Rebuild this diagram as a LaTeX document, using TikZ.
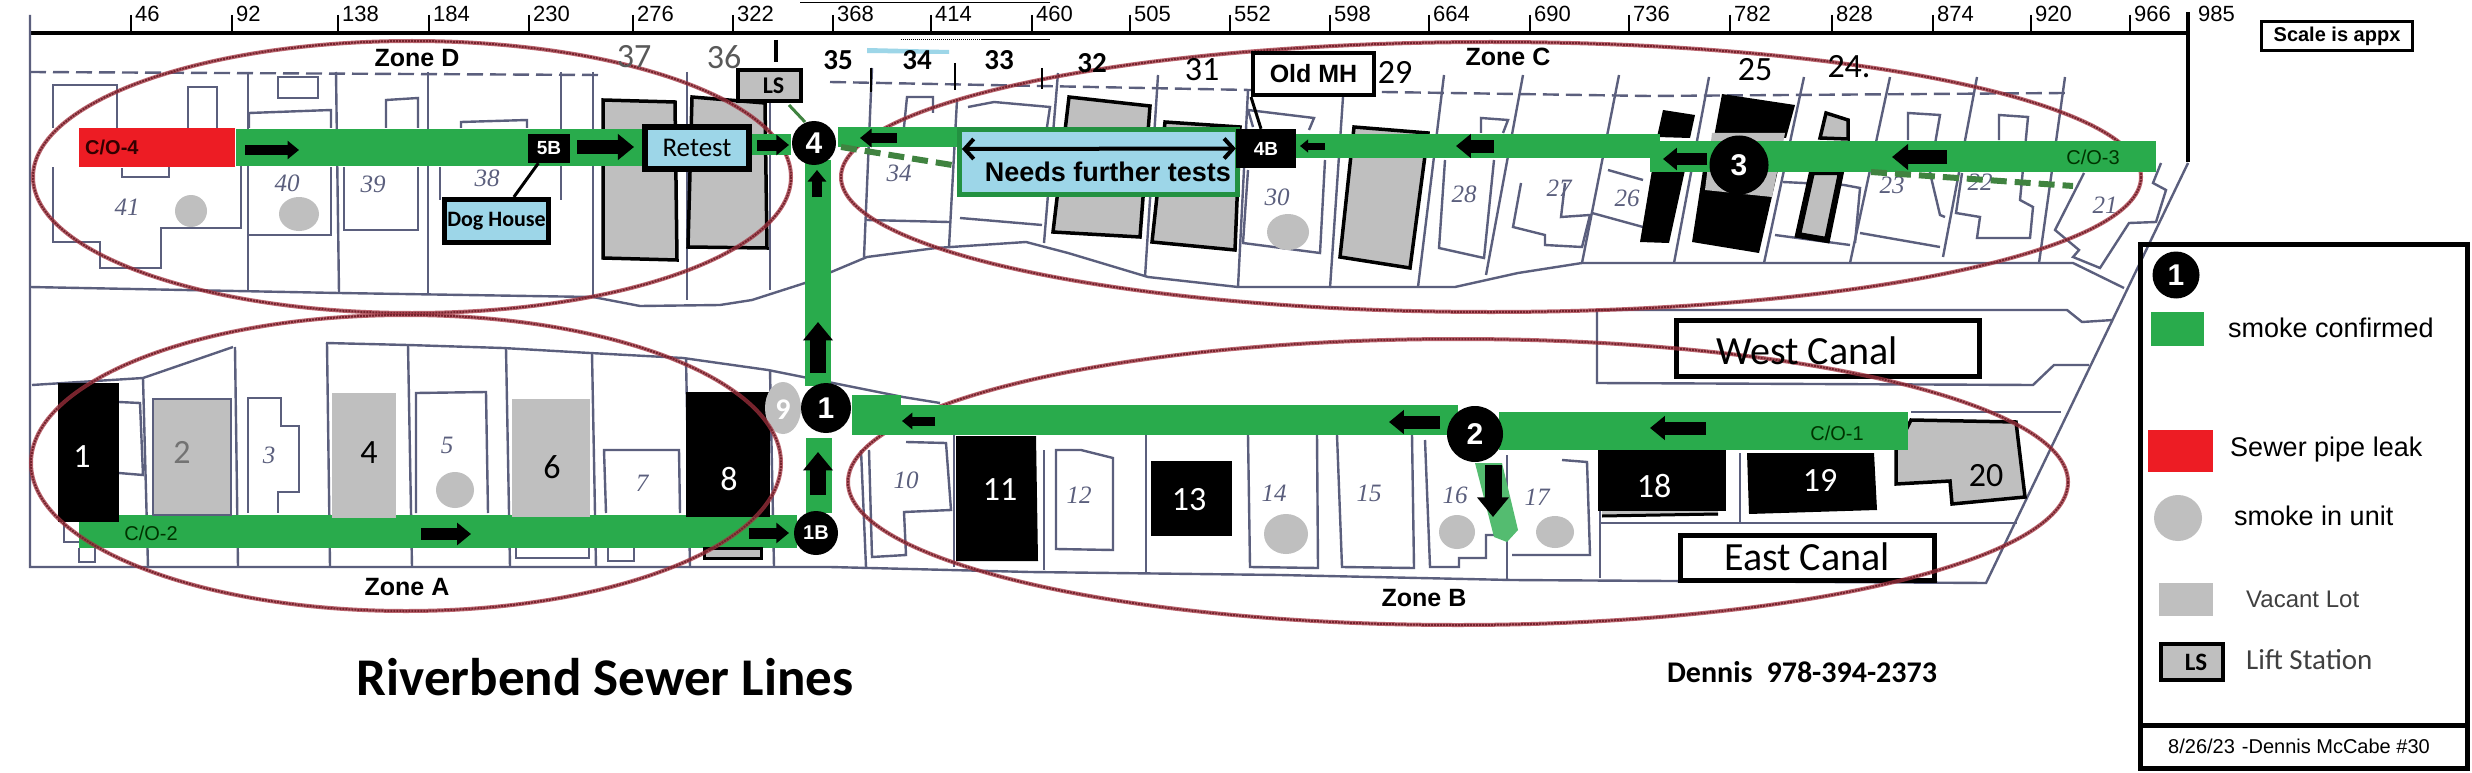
\documentclass[tikz,border=0pt]{standalone}
\usepackage{fontspec}
\setmainfont{Liberation Sans}
\newfontfamily\calibri{Carlito}
\newfontfamily\handfont{Liberation Serif}
\usetikzlibrary{arrows.meta}
\definecolor{smoke}{HTML}{29AB4C}
\definecolor{leak}{HTML}{ED1C24}
\definecolor{vacant}{HTML}{BFBFBF}
\definecolor{retestblue}{HTML}{9DD6E8}
\definecolor{plan}{HTML}{5B5F7D}
\definecolor{ring}{HTML}{A5323F}
\tikzset{
  planline/.style={plan, line width=2.4pt},
  lotblack/.style={fill=black},
  lotgray/.style={fill=vacant, draw=black, line width=3.5pt},
  flowarrow/.style={line width=#1, -{Triangle[length=0pt 1.15, width=0pt 1.8]}},
  flowarrow/.default=12pt,
  bubble/.style={circle, fill=black, text=white, inner sep=0pt, minimum size=#1,
    font=\fontsize{30}{30}\selectfont\bfseries},
  blackbox/.style={fill=black, text=white, inner sep=0pt, font=\fontsize{19}{19}\selectfont\bfseries},
  outlined/.style={draw=black, fill=white, inner sep=0pt, line width=5pt},
  hand/.style={text=plan, inner sep=0pt, font=\fontsize{25}{25}\selectfont\handfont\itshape},
  lotnum/.style={inner sep=0pt, font=\fontsize{34}{34}\selectfont\calibri},
  zonelabel/.style={inner sep=0pt, font=\fontsize{25}{25}\selectfont\bfseries},
  colabel/.style={inner sep=0pt, font=\fontsize{20}{20}\selectfont},
  legendtext/.style={anchor=west, inner sep=0pt, font=\fontsize{27}{27}\selectfont},
  ticklabel/.style={anchor=west, inner sep=0pt, font=\fontsize{22}{22}\selectfont},
}
\begin{document}
\begin{tikzpicture}[x=1pt, y=-1pt]
  \useasboundingbox (0, 0) rectangle (2472, 773);
  \fill[white] (0, 0) rectangle (2472, 773);

  \draw[line width=3.5pt] (30, 33) -- (2188, 33);
  \draw[line width=3.5pt] (2188, 12) -- (2188, 162);
  \foreach \x/\t in {131/46, 232/92, 338/138, 429/184, 529/230, 633/276, 733/322,
    833/368, 931/414, 1032/460, 1130/505, 1230/552, 1330/598, 1429/664, 1530/690,
    1629/736, 1730/782, 1832/828, 1933/874, 2031/920, 2130/966} {
    \draw[line width=1.5pt] (\x, 15) -- (\x, 33);
    \node[ticklabel] (tick\t) at (\x + 4, 14) {\t};
  }
  \node[ticklabel] (tick985) at (2198, 14) {985};
  \draw[line width=1pt] (800, 3) -- (1050, 3);
  \draw[line width=1pt, densely dotted] (901, 40) -- (981, 40);
  \draw[line width=1pt] (981, 40) -- (1050, 40);
  \fill[retestblue] (867, 48) -- (949, 50) -- (949, 54) -- (867, 53) -- cycle;

  \draw[planline] (30, 15) -- (30, 567) -- (830, 567) -- (1030, 572) -- (1280, 575)
    -- (1512, 580) -- (1986, 583) -- (2188, 163);
  \draw[planline, dash pattern=on 16pt off 7pt] (30, 72) -- (600, 75);
  \draw[planline, dash pattern=on 16pt off 7pt] (830, 82) -- (1250, 90) -- (1650, 96) -- (2065, 93);
  \draw[planline] (30, 287) -- (339, 293) -- (593, 297) -- (640, 306) -- (720, 305) -- (752, 300)
    -- (805, 283) -- (867, 257) -- (936, 248) -- (1026, 242) -- (1068, 253) -- (1148, 277)
    -- (1238, 287) -- (1455, 287) -- (1518, 273) -- (1582, 263) -- (2073, 263) -- (2124, 288);
  \draw[planline] (32, 385) -- (143, 378) -- (233, 347);
  \draw[planline] (326, 343) -- (408, 345) -- (503, 348) -- (590, 353) -- (683, 358)
    -- (768, 370) -- (803, 377) -- (903, 397) -- (940, 403);
  \draw[planline] (2089, 365) -- (2054, 365) -- (2033, 385) -- (1597, 383) -- (1597, 310)
    -- (2067, 310) -- (2082, 322) -- (2113, 320);
  \draw[planline] (1911, 412) -- (2061, 412);
  \draw[planline] (1600, 450) -- (1600, 578);
  \draw[planline] (1600, 523) -- (2017, 523);
  \draw[planline] (1740, 453) -- (1740, 523);
  \foreach \x/\y/\u/\v in {248/72/248/290, 336/72/339/293, 428/72/428/295, 561/72/561/200,
    593/72/593/297, 687/72/687/300, 770/80/770/290, 872/68/864/257, 957/100/949/247,
    1058/73/1044/243, 1158/75/1145/277, 1248/90/1238/287, 1343/97/1330/288,
    1444/75/1418/287, 1523/75/1486/275, 1619/75/1582/263, 1709/77/1674/263,
    1804/77/1764/263, 1890/77/1850/263, 1977/77/1943/257, 2065/77/2039/263,
    143/378/148/567, 235/347/238/567, 327/343/330/567, 408/345/412/567, 506/348/510/567,
    592/353/596/567, 686/358/690/567, 770/370/774/567, 861/450/866/567, 954/435/954/567,
    1044/450/1044/570, 1146/435/1146/574, 1507/455/1507/580} {
    \draw[planline] (\x, \y) -- (\u, \v);
  }
  \draw[planline] (53, 128) -- (53, 85) -- (117, 85) -- (117, 130);
  \draw[planline] (53, 167) -- (53, 242) -- (100, 242) -- (100, 268) -- (161, 268) -- (161, 228)
    -- (241, 228) -- (241, 150);
  \draw[planline] (188, 128) -- (188, 87) -- (217, 87) -- (217, 128);
  \draw[planline] (122, 168) -- (122, 177) -- (169, 177) -- (169, 167);
  \draw[planline] (249, 128) -- (249, 113) -- (331, 110) -- (331, 128);
  \draw[planline] (278, 77) -- (318, 77) -- (318, 98) -- (278, 98) -- cycle;
  \draw[planline] (331, 167) -- (331, 235) -- (249, 235);
  \draw[planline] (386, 128) -- (386, 100) -- (418, 98) -- (418, 128);
  \draw[planline] (344, 167) -- (344, 230) -- (418, 230) -- (418, 167);
  \draw[planline] (461, 128) -- (461, 122) -- (527, 120) -- (527, 128);
  \draw[planline] (440, 167) -- (440, 200);
  \draw[planline] (904, 127) -- (907, 97) -- (933, 97) -- (933, 113);
  \draw[planline] (968, 107) -- (994, 102) -- (1050, 107) -- (1047, 127);
  \draw[planline] (867, 220) -- (949, 222);
  \draw[planline] (960, 218) -- (1042, 225);
  \draw[planline] (1253, 127) -- (1248, 110) -- (1314, 118) -- (1309, 130);
  \draw[planline] (1248, 170) -- (1243, 243) -- (1320, 253) -- (1325, 160);
  \draw[planline] (1481, 133) -- (1481, 118) -- (1508, 120) -- (1503, 133);
  \draw[planline] (1445, 160) -- (1439, 248) -- (1484, 258) -- (1494, 160);
  \draw[planline] (1521, 183) -- (1513, 227) -- (1545, 235) -- (1545, 245) -- (1582, 247)
    -- (1590, 215) -- (1561, 217) -- (1565, 183);
  \draw[planline] (1608, 170) -- (1643, 180);
  \draw[planline] (1592, 213) -- (1643, 227);
  \draw[planline] (1775, 235) -- (1850, 245);
  \draw[planline] (1783, 182) -- (1844, 185) -- (1860, 188) -- (1855, 243);
  \draw[planline] (1908, 140) -- (1908, 113) -- (1940, 115) -- (1930, 173) -- (1940, 215) -- (1945, 217);
  \draw[planline] (1860, 233) -- (1940, 247);
  \draw[planline] (1999, 140) -- (1999, 115) -- (2028, 117) -- (2020, 200) -- (2033, 207) -- (2030, 238)
    -- (1977, 238) -- (1980, 217) -- (1956, 213) -- (1962, 173);
  \draw[planline] (2084, 173) -- (2055, 230) -- (2079, 250) -- (2073, 257) -- (2100, 268) -- (2129, 223)
    -- (2156, 222) -- (2166, 190) -- (2153, 183) -- (2161, 163);
  \draw[planline] (119, 402) -- (140, 403) -- (143, 475) -- (119, 473);
  \draw[planline] (64, 522) -- (64, 542) -- (79, 542);
  \draw[planline] (79, 548) -- (79, 562) -- (95, 562) -- (95, 548);
  \draw[planline] (248, 513) -- (248, 398) -- (281, 398) -- (281, 426) -- (299, 426) -- (299, 492)
    -- (278, 492) -- (278, 513);
  \draw[planline] (416, 513) -- (416, 393) -- (486, 392) -- (488, 513);
  \draw[planline] (606, 513) -- (604, 450) -- (679, 450) -- (680, 513);
  \draw[planline] (516, 548) -- (516, 558) -- (589, 558) -- (589, 548);
  \draw[planline] (608, 548) -- (608, 561) -- (634, 561) -- (634, 548);
  \draw[planline] (906, 442) -- (946, 443) -- (951, 510) -- (904, 512) -- (906, 555) -- (872, 557) -- (869, 450);
  \draw[planline] (1056, 450) -- (1081, 450) -- (1113, 458) -- (1113, 550) -- (1056, 549) -- cycle;
  \draw[planline] (1248, 435) -- (1250, 567) -- (1318, 568) -- (1317, 435);
  \draw[planline] (1337, 435) -- (1342, 567) -- (1414, 568) -- (1412, 435);
  \draw[planline] (1425, 440) -- (1430, 567) -- (1459, 567) -- (1459, 558) -- (1486, 558) -- (1486, 535) -- (1496, 535);
  \draw[planline] (1512, 555) -- (1590, 555) -- (1587, 462) -- (1562, 460);

  \foreach \x/\y/\t in {127/207/41, 287/183/40, 373/184/39, 487/178/38, 899/173/34, 1277/197/30,
    1464/194/28, 1559/188/27, 1627/198/26, 1892/185/23, 1980/182/22, 2105/205/21, 269/455/3,
    447/445/5, 642/483/7, 906/480/10, 1079/495/12, 1274/493/14, 1369/493/15, 1455/495/16, 1537/497/17} {
    \node[hand] (hand\t) at (\x, \y) {\t};
  }

  \fill[smoke] (79, 515) rectangle (797, 548);

  \draw[lotgray] (603, 100) -- (675, 102) -- (677, 260) -- (603, 258) -- cycle;
  \draw[lotgray] (692, 97) -- (765, 103) -- (767, 248) -- (688, 247) -- cycle;
  \draw[lotgray] (1069, 97) -- (1150, 106) -- (1140, 237) -- (1053, 232) -- cycle;
  \draw[lotgray] (1165, 122) -- (1240, 127) -- (1235, 250) -- (1152, 242) -- cycle;
  \draw[lotgray] (1354, 127) -- (1428, 133) -- (1410, 268) -- (1340, 257) -- cycle;
  \fill[black] (1663, 110) -- (1695, 115) -- (1690, 138) -- (1657, 137) -- cycle;
  \fill[black] (1652, 170) -- (1685, 170) -- (1669, 243) -- (1640, 242) -- cycle;
  \fill[black] (1722, 94) -- (1795, 105) -- (1786, 138) -- (1714, 137) -- cycle;
  \fill[black] (1703, 170) -- (1778, 170) -- (1759, 253) -- (1692, 242) -- cycle;
  \fill[vacant] (1712, 133) -- (1785, 133) -- (1772, 197) -- (1705, 190) -- cycle;
  \draw[lotgray] (1826, 113) -- (1848, 120) -- (1848, 139) -- (1820, 138) -- cycle;
  \draw[lotgray, line width=6pt] (1812, 172) -- (1841, 172) -- (1827, 240) -- (1798, 235) -- cycle;
  \fill[vacant] (1602, 505) rectangle (1718, 516);
  \draw[black, line width=3pt] (1602, 516) -- (1718, 514);
  \draw[lotgray, line width=3pt] (704, 548) rectangle (761, 558);
  \draw[lotgray, line width=3.5pt] (1911, 420) -- (2016, 422) -- (2025, 497) -- (1952, 504) -- (1950, 481)
    -- (1896, 484) -- (1896, 450) -- cycle;
  \fill[black] (58, 383) rectangle (119, 522);
  \fill[black] (686, 392) rectangle (770, 517);
  \fill[black] (956, 436) -- (1036, 436) -- (1038, 561) -- (956, 561) -- cycle;
  \fill[black] (1151, 461) rectangle (1232, 536);
  \fill[black] (1598, 449) rectangle (1726, 511);
  \fill[black] (1747, 453) -- (1874, 453) -- (1877, 510) -- (1749, 514) -- cycle;
  \fill[vacant] (332, 393) rectangle (396, 518);
  \fill[vacant] (512, 399) rectangle (590, 517);
  \draw[fill=vacant, draw=plan, line width=2pt] (153, 399) rectangle (231, 515);
  \foreach \x/\y/\a/\b in {191/211/16/16, 299/214/20/17, 1288/232/21/18, 455/490/19/18,
    1286/534/22/20, 1457/532/18/17, 1555/532/19/16, 783/408/18/26} {
    \fill[vacant] (\x, \y) ellipse ({\a} and {\b});
  }

  \node[outlined, minimum width=303pt, minimum height=56pt] (westcanal) at (1827.5, 348.5) {};
  \node[outlined, minimum width=254pt, minimum height=45pt] (eastcanal) at (1807.5, 558) {};

  \foreach \x/\y/\a/\b in {412/177/379/136, 406/463/375/148, 1491/177/650/135, 1458/482/610/143} {
    \draw[ring, line width=4pt, opacity=0.75] (\x, \y) ellipse ({\a} and {\b});
    \draw[ring!70!black, line width=2pt, densely dotted] (\x, \y) ellipse ({\a} and {\b});
  }

  \fill[smoke] (236, 129) rectangle (643, 166);
  \fill[leak] (79, 128) rectangle (235, 167);
  \fill[smoke] (749, 134) rectangle (791, 155);
  \fill[smoke] (838, 127) rectangle (968, 147);
  \fill[smoke] (1296, 134) rectangle (1660, 158);
  \fill[smoke] (1650, 141) rectangle (2156, 172);
  \fill[smoke] (805, 160) rectangle (831, 386);
  \fill[smoke] (806, 438) rectangle (832, 513);
  \fill[smoke] (852, 395) rectangle (901, 435);
  \fill[smoke] (901, 405) rectangle (1458, 435);
  \fill[smoke] (1499, 412) rectangle (1908, 450);
  \fill[smoke!80!white] (1475, 463) -- (1502, 463) -- (1518, 530) -- (1507, 542) -- (1494, 537) -- cycle;
  \draw[green!35!black!75, line width=6pt, dash pattern=on 16pt off 8pt] (841, 147) -- (952, 165);
  \draw[green!35!black!75, line width=6pt, dash pattern=on 16pt off 8pt] (1871, 172) -- (2073, 186);
  \draw[green!35!black!75, line width=3pt] (789, 105) -- (805, 122);

  \node[draw=smoke!85!black, fill=retestblue, line width=5pt, inner sep=0pt, minimum width=278pt,
    minimum height=65pt] (needsbox) at (1098.5, 162) {};
  \node[inner sep=0pt, font=\fontsize{27}{27}\selectfont\bfseries] (needstext) at (1108, 172) {Needs further tests};

  \draw[flowarrow=10pt] (245, 150) -- (299, 150);
  \draw[flowarrow=14pt] (577, 147) -- (634, 147);
  \draw[flowarrow=11pt] (757, 145) -- (789, 145);
  \draw[flowarrow=10pt] (817, 197) -- (817, 170);
  \draw[flowarrow=16pt] (818, 373) -- (818, 322);
  \draw[flowarrow=16pt] (818, 495) -- (818, 452);
  \draw[flowarrow=12pt] (421, 534) -- (471, 534);
  \draw[flowarrow=11pt] (749, 533) -- (789, 533);
  \draw[flowarrow=10pt] (897, 138) -- (860, 138);
  \draw[flowarrow=7pt] (1325, 146) -- (1300, 146);
  \draw[flowarrow=13pt] (1494, 146) -- (1456, 146);
  \draw[flowarrow=12pt] (1707, 159) -- (1663, 159);
  \draw[flowarrow=14pt] (1947, 157) -- (1892, 157);
  \draw[flowarrow=9pt] (935, 421) -- (902, 421);
  \draw[flowarrow=13pt] (1440, 422) -- (1389, 422);
  \draw[flowarrow=13pt] (1706, 428) -- (1650, 428);
  \draw[flowarrow=17pt] (1493, 465) -- (1493, 517);

  \node[blackbox, minimum width=60pt, minimum height=39pt] (fourb) at (1266, 148.5) {4B};
  \node[blackbox, minimum width=42pt, minimum height=29pt] (fiveb) at (549, 148.5) {5B};
  \coordinate (needsend) at (962, 149);
  \draw[line width=4pt, {Straight Barb[length=9pt, width=20pt]}-{Straight Barb[length=9pt, width=20pt]}] (needsend) -- (fourb.west);

  \node[bubble=44pt] (pointfour) at (814, 143) {4};
  \node[bubble=50pt] (pointone) at (826, 408) {1};
  \node[bubble=44pt, font=\fontsize{20}{20}\selectfont\bfseries] (pointoneb) at (816, 533) {1B};
  \node[bubble=56pt] (pointtwo) at (1475, 434) {2};
  \node[bubble=59pt] (pointthree) at (1739, 165) {3};

  \node[outlined, fill=vacant, line width=4pt, minimum width=63pt, minimum height=31pt,
    font=\fontsize{24}{24}\selectfont\calibri\bfseries] (liftstation) at (769.5, 85.5) {\hspace{8pt}LS};
  \draw[line width=3.5pt] (776, 40) -- (776, 62);
  \foreach \x/\u/\v in {871/68/92, 955/63/90, 1042/68/89} {
    \draw[line width=2pt] (\x, \u) -- (\x, \v);
  }
  \node[outlined, fill=retestblue, line width=6pt, minimum width=104pt, minimum height=42pt,
    font=\fontsize{27}{27}\selectfont\calibri] (retest) at (697, 148) {Retest\hspace{12pt}};
  \node[outlined, fill=retestblue, minimum width=104pt, minimum height=43pt,
    font=\fontsize{22}{22}\selectfont\calibri\bfseries] (doghouse) at (496.5, 221) {Dog House};
  \draw[line width=3pt] (fiveb) -- (doghouse);
  \node[outlined, line width=4pt, minimum width=121pt, minimum height=42pt,
    font=\fontsize{25}{25}\selectfont\bfseries] (oldmh) at (1313.5, 74) {Old MH\hspace{8pt}};
  \draw[line width=3pt] (oldmh.south west) -- ([xshift=-5pt]fourb.north);
  \node[outlined, line width=3.5pt, minimum width=151pt, minimum height=29pt,
    font=\fontsize{20}{20}\selectfont\bfseries] (scalenote) at (2337, 36) {Scale is appx};

  \node[inner sep=0pt, font=\fontsize{40}{40}\selectfont\calibri] (westtext) at (1807, 351) {West Canal};
  \node[inner sep=0pt, font=\fontsize{40}{40}\selectfont\calibri] (easttext) at (1807, 557) {East Canal};

  \node[zonelabel] (zoned) at (417, 58) {Zone D};
  \node[zonelabel] (zonec) at (1508, 57) {Zone C};
  \node[zonelabel] (zonea) at (407, 587) {Zone A};
  \node[zonelabel] (zoneb) at (1424, 598) {Zone B};

  \node[colabel, anchor=west, font=\fontsize{20}{20}\selectfont\bfseries, text=black!80!red] (cofour) at (85, 147) {C/O-4};
  \node[colabel, text=green!20!black] (cotwo) at (151, 533) {C/O-2};
  \node[colabel, text=green!20!black] (cothree) at (2093, 157) {C/O-3};
  \node[colabel, text=green!20!black] (coone) at (1837, 433) {C/O-1};

  \node[lotnum, text=black!65] (num37) at (634, 57) {37};
  \node[lotnum, text=black!65] (num36) at (724, 57) {36};
  \foreach \x/\y/\t in {838/60/35, 917/60/34, 999/60/33, 1092/63/32} {
    \node[lotnum, font=\fontsize{29}{29}\selectfont\calibri\bfseries] (num\t) at (\x, \y) {\t};
  }
  \foreach \x/\y/\t in {1202/70/31, 1395/72/29, 1755/70/25, 369/453/4, 552/467/6, 1986/476/20} {
    \node[lotnum] (num\t) at (\x, \y) {\t};
  }
  \node[lotnum] (num24) at (1849, 67) {24.};
  \node[lotnum, text=black!55] (num2) at (182, 452) {2};
  \foreach \x/\y/\t in {82/457/1, 729/479/8, 1000/490/11, 1189/500/13, 1654/486/18, 1820/480/19} {
    \node[lotnum, text=white] (num\t) at (\x, \y) {\t};
  }
  \node[lotnum, text=white, font=\fontsize{30}{30}\selectfont\calibri\bfseries] (num9) at (783, 410) {9};

  \node[inner sep=0pt, font=\fontsize{53}{53}\selectfont\calibri\bfseries] (title) at (605, 677) {Riverbend Sewer Lines};
  \node[inner sep=0pt, font=\fontsize{30}{30}\selectfont\calibri\bfseries] (phone) at (1802, 672) {Dennis\hspace{14pt}978-394-2373};

  \node[draw=black, line width=5pt, inner sep=0pt, minimum width=327pt, minimum height=524pt] (legendbox) at (2303.5, 506.5) {};
  \draw[line width=5pt] (2139, 725) -- (2467, 725);
  \node[bubble=47pt] (legendone) at (2176, 275) {1};
  \fill[smoke] (2151, 312) rectangle (2204, 346);
  \node[legendtext] (legendsmoke) at (2228, 328) {smoke confirmed};
  \fill[leak] (2148, 430) rectangle (2213, 472);
  \node[legendtext] (legendleak) at (2230, 450) {Sewer pipe leak};
  \fill[vacant] (2178, 518) ellipse (24 and 23);
  \node[legendtext] (legendunit) at (2234, 516) {smoke in unit};
  \fill[vacant] (2159, 583) rectangle (2213, 616);
  \node[legendtext, font=\fontsize{24}{24}\selectfont, text=black!75] (legendvacant) at (2246, 599) {Vacant Lot};
  \node[outlined, fill=vacant, line width=4pt, minimum width=62pt, minimum height=36pt,
    font=\fontsize{25}{25}\selectfont\calibri\bfseries] (legendls) at (2192, 662) {\hspace{8pt}LS};
  \node[legendtext, font=\fontsize{29}{29}\selectfont\calibri, text=black!75] (legendlift) at (2246, 660) {Lift Station};
  \node[legendtext, font=\fontsize{20}{20}\selectfont] (legenddate) at (2168, 746) {8/26/23\hspace{7pt}-Dennis McCabe \#30};
\end{tikzpicture}
\end{document}
